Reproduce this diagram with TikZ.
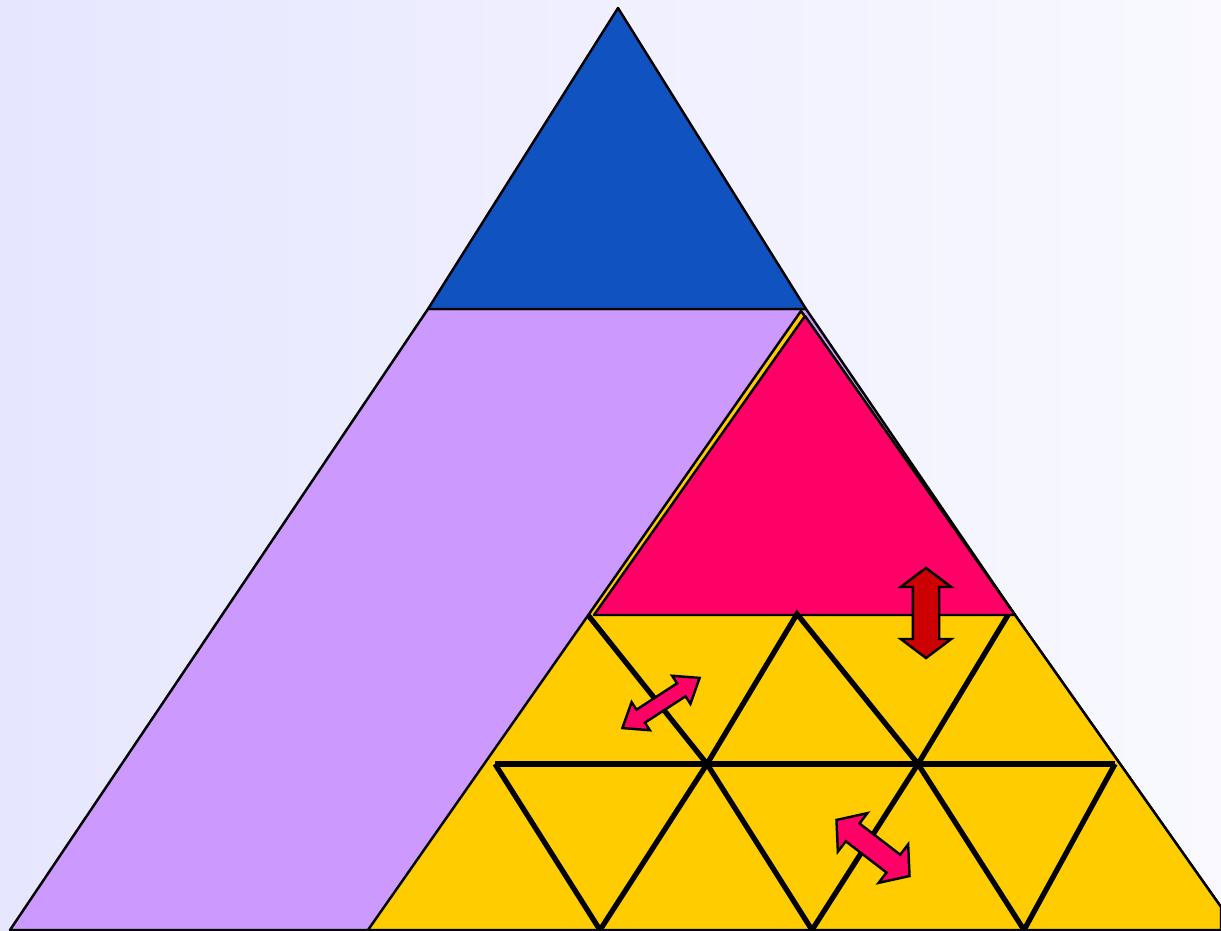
\documentclass[tikz,border=0pt]{standalone}
\usetikzlibrary{shapes.arrows}
\definecolor{bgleft}{RGB}{230,230,255}
\definecolor{bgright}{RGB}{249,249,255}
\definecolor{topblue}{RGB}{15,82,192}
\definecolor{lilac}{RGB}{204,153,255}
\definecolor{rosered}{RGB}{255,0,102}
\definecolor{gold}{RGB}{255,204,0}
\definecolor{darkred}{RGB}{204,0,0}
\tikzset{
  face/.style={draw=black,line width=0.7pt,line join=round},
  gridline/.style={draw=black,line width=1.5pt},
  swaparrow/.style={double arrow,draw=black,line width=0.7pt,inner xsep=0pt}
}
\begin{document}
\begin{tikzpicture}[x=0.01cm,y=-0.01cm]
  \useasboundingbox (0,0) rectangle (1221,931);
  \shade[left color=bgleft,right color=bgright] (0,0) rectangle (1221,931);
  % outline of the pyramid
  \coordinate (T) at (618,8);
  \coordinate (BL) at (428,309);
  \coordinate (BR) at (806,309);
  \coordinate (L) at (10,930);
  \coordinate (P) at (368,930);
  \coordinate (Q) at (1015,615);
  \coordinate (E) at (1221,907);
  \coordinate (F) at (1221,930);
  % yellow and red parts
  \coordinate (Y) at (801,311);
  \coordinate (RA) at (805,316);
  \coordinate (RL) at (594,615);
  \coordinate (RR) at (1015,615);
  \filldraw[face,fill=lilac] (L)--(BL)--(BR)--(Q)--(E)--(F)--cycle;
  \filldraw[face,fill=gold] (Y)--(P)--(F)--(E)--(Q)--cycle;
  \filldraw[face,fill=rosered] (RA)--(RL)--(RR)--cycle;
  \filldraw[face,fill=topblue] (T)--(BL)--(BR)--cycle;
  \draw[face] (L)--(F);
  % triangle grid
  \coordinate (A1) at (588,615);
  \coordinate (A2) at (797,614);
  \coordinate (A3) at (1008,615);
  \coordinate (M0) at (495,764);
  \coordinate (M1) at (707,764);
  \coordinate (M2) at (918,764);
  \coordinate (M3) at (1115,764);
  \coordinate (B1) at (600,930);
  \coordinate (B2) at (812,930);
  \coordinate (B3) at (1024,930);
  \draw[gridline] (A1)--(M1)--(A2)--(M2)--(A3);
  \draw[gridline] (M0)--(M3);
  \draw[gridline] (M0)--(B1)--(M1)--(B2)--(M2)--(B3)--(M3);
  % arrows
  \node[swaparrow,fill=darkred,rotate=90,minimum height=0.9cm,inner ysep=0.12cm,
        double arrow head extend=0.12cm,double arrow tip angle=106] (lift) at (926,613) {};
  \node[swaparrow,fill=rosered,rotate=33,minimum height=0.92cm,inner ysep=0.065cm,
        double arrow head extend=0.09cm,double arrow tip angle=75] (swapa) at (661,703) {};
  \node[swaparrow,fill=rosered,rotate=-37.5,minimum height=0.92cm,inner ysep=0.1cm,
        double arrow head extend=0.13cm,double arrow tip angle=100] (swapb) at (873,848) {};
\end{tikzpicture}
\end{document}
